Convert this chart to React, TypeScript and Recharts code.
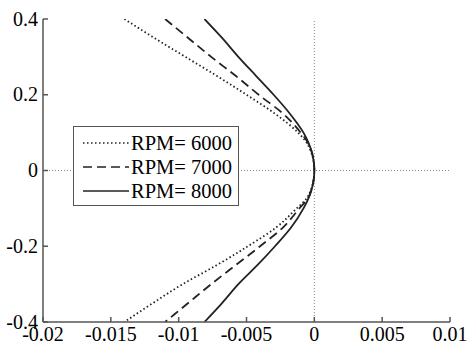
import { LineChart, Line, XAxis, YAxis, ReferenceLine, Legend } from "recharts"

// y positions (vertical axis) and deflection of each curve (horizontal axis)
const yValues = [0.4, 0.35, 0.3, 0.25, 0.2, 0.15, 0.1, 0.075, 0.05, 0.025, 0, -0.025, -0.05, -0.075, -0.1, -0.15, -0.2, -0.25, -0.3, -0.35, -0.4]
const rpm6000 = [-0.014, -0.0118, -0.0095, -0.0072, -0.005, -0.0029, -0.0012, -0.0006, -0.00025, -0.00006, 0, -0.00006, -0.00025, -0.0006, -0.0013, -0.0028, -0.0049, -0.0072, -0.0097, -0.0119, -0.014]
const rpm7000 = [-0.011, -0.0093, -0.0076, -0.0058, -0.0041, -0.0023, -0.001, -0.0005, -0.0002, -0.00005, 0, -0.00005, -0.0002, -0.0005, -0.0011, -0.0023, -0.004, -0.0058, -0.0076, -0.0093, -0.011]
const rpm8000 = [-0.0081, -0.0068, -0.0056, -0.0043, -0.003, -0.0018, -0.0008, -0.00045, -0.0002, -0.00005, 0, -0.00005, -0.0002, -0.00045, -0.0008, -0.0017, -0.0029, -0.0042, -0.0056, -0.0068, -0.0081]

const xTicks = [-0.02, -0.015, -0.01, -0.005, 0, 0.005, 0.01]
const yTicks = [-0.4, -0.2, 0, 0.2, 0.4]

const data = yValues.map((y, i) => ({
  y,
  rpm6000: rpm6000[i],
  rpm7000: rpm7000[i],
  rpm8000: rpm8000[i],
}))

const FONT = "'Liberation Serif', 'Times New Roman', serif"
const AXIS = "#555"

function BottomTick({ x, y, payload }: any) {
  return (
    <g>
      <line x1={x} y1={y} x2={x} y2={y - 5} stroke={AXIS} strokeWidth={1.5} />
      <text x={x} y={y + 19} textAnchor="middle" fontSize={20} fill="#000" fontFamily={FONT}>
        {payload.value}
      </text>
    </g>
  )
}

function LeftTick({ x, y, payload }: any) {
  return (
    <g>
      <line x1={x} y1={y} x2={x + 5} y2={y} stroke={AXIS} strokeWidth={1.5} />
      <text x={x - 5} y={y + 6.5} textAnchor="end" fontSize={20} fill="#000" fontFamily={FONT}>
        {payload.value}
      </text>
    </g>
  )
}

function LegendBox({ payload }: any) {
  const items = payload || []
  return (
    <div style={{ width: 164, height: 78, border: `1.5px solid ${AXIS}`, background: "#fff" }}>
      <svg width={164} height={78}>
        {items.map((item: any, i: number) => {
          const cy = 16 + i * 24
          return (
            <g key={item.value}>
              <line
                x1={9}
                x2={55}
                y1={cy}
                y2={cy}
                stroke="#222"
                strokeWidth={1.5}
                strokeDasharray={item.payload?.strokeDasharray}
              />
              <text x={57} y={cy + 7} fontSize={20.5} fill="#000" fontFamily={FONT}>
                {item.value}
              </text>
            </g>
          )
        })}
      </svg>
    </div>
  )
}

export default function App() {
  return (
    <div style={{ position: "absolute", left: 0, top: 0, background: "#fff" }}>
      <LineChart
        width={467}
        height={346}
        data={data}
        layout="vertical"
        margin={{ top: 19, right: 17, bottom: 0, left: 0 }}
      >
        <XAxis
          type="number"
          domain={[-0.02, 0.01]}
          ticks={xTicks}
          allowDataOverflow
          height={24}
          tickSize={0}
          tickMargin={0}
          tickLine={false}
          axisLine={{ stroke: AXIS, strokeWidth: 1.5 }}
          tick={<BottomTick />}
        />
        <YAxis
          type="number"
          dataKey="y"
          domain={[-0.4, 0.4]}
          ticks={yTicks}
          reversed
          allowDataOverflow
          width={43}
          tickSize={0}
          tickMargin={0}
          tickLine={false}
          axisLine={{ stroke: AXIS, strokeWidth: 1.5 }}
          tick={<LeftTick />}
        />
        <ReferenceLine x={0} stroke="#888" strokeDasharray="1 2" />
        <ReferenceLine y={0} stroke="#888" strokeDasharray="1 2" />
        <Line
          dataKey="rpm6000"
          name="RPM= 6000"
          type="monotone"
          stroke="#222"
          strokeWidth={1.8}
          strokeDasharray="1.5 2.5"
          dot={false}
          isAnimationActive={false}
        />
        <Line
          dataKey="rpm7000"
          name="RPM= 7000"
          type="monotone"
          stroke="#222"
          strokeWidth={1.8}
          strokeDasharray="9 5"
          dot={false}
          isAnimationActive={false}
        />
        <Line
          dataKey="rpm8000"
          name="RPM= 8000"
          type="monotone"
          stroke="#222"
          strokeWidth={1.8}
          dot={false}
          isAnimationActive={false}
        />
        <Legend
          layout="horizontal"
          verticalAlign="middle"
          content={<LegendBox />}
          wrapperStyle={{ left: 73, top: 126, width: "auto" }}
        />
      </LineChart>
    </div>
  )
}
